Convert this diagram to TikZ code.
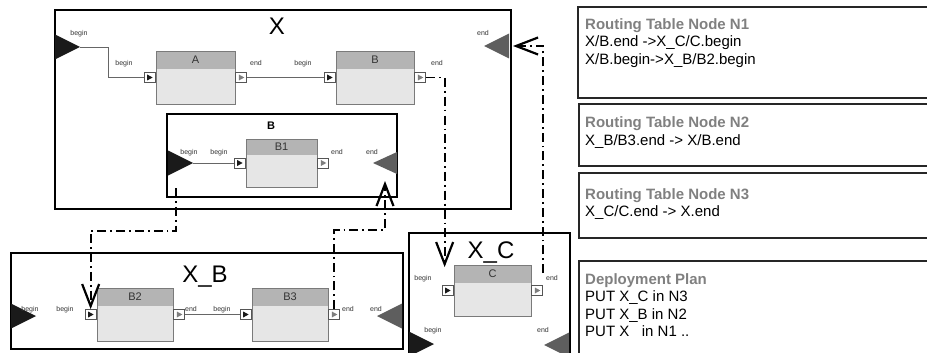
\documentclass[tikz,border=0pt]{standalone}
\usepackage{fontspec}
\setmainfont{Liberation Sans}
\usepackage{tikz}
\usetikzlibrary{arrows.meta, fit, calc}

\definecolor{extblack}{HTML}{1A1A1A}
\definecolor{extgray}{HTML}{5E5E5E}
\definecolor{headgray}{HTML}{B4B4B4}
\definecolor{bodygray}{HTML}{E6E6E6}
\definecolor{linegray}{HTML}{7A7A7A}
\definecolor{wiregray}{HTML}{666666}
\definecolor{titlegray}{HTML}{808080}
\definecolor{labelgray}{HTML}{333333}

\begin{document}
\begin{tikzpicture}[x=1pt, y=-1pt]
    \tikzset{
        portbegin/.pic={
                \fill[extblack] (0pt,12.5pt) -- (25pt,0pt) -- (0pt,-12.5pt) -- cycle;
            },
        portend/.pic={
                \fill[extgray] (0pt,12.5pt) -- (-25pt,0pt) -- (0pt,-12.5pt) -- cycle;
            },
        sysbox/.style={draw=black, line width=1.8pt, inner sep=0pt},
        tablebox/.style={draw=black!85, line width=1.8pt, anchor=north west, minimum width=380pt, inner sep=0pt},
        tabletext/.style={anchor=north west, align=left, inner sep=0pt, font=\fontsize{15}{17.5}\selectfont},
        block/.style={
                draw=linegray, line width=0.9pt, fill=bodygray, inner sep=0pt,
                path picture={\fill[headgray] (path picture bounding box.north west) rectangle ([yshift=-#1]path picture bounding box.north east);}
            },
        block/.default=18pt,
        blocklabel/.style={font=\fontsize{11}{12}\selectfont, text=labelgray, anchor=center, yshift=-9pt, inner sep=0pt},
        portbox/.style={draw=linegray!70!black, fill=white, line width=0.8pt, minimum width=11pt, minimum height=10pt, inner sep=0pt},
        inport/.style={
                portbox, anchor=east,
                path picture={\fill[extblack] ([xshift=-2.5pt,yshift=3pt]path picture bounding box.center) -- ++(5.5pt,-3pt) -- ++(-5.5pt,-3pt) -- cycle;}
            },
        outport/.style={
                portbox, anchor=west,
                path picture={\fill[extgray!80] ([xshift=-2.5pt,yshift=3pt]path picture bounding box.center) -- ++(5.5pt,-3pt) -- ++(-5.5pt,-3pt) -- cycle;}
            },
        portlabel/.style={font=\fontsize{7}{8}\selectfont, text=labelgray, anchor=base, inner sep=0pt},
        biglabel/.style={font=\fontsize{24}{26}\selectfont, anchor=base, inner sep=0pt},
        wire/.style={draw=wiregray, line width=0.9pt},
        route/.style={line width=1.8pt, dash pattern=on 9pt off 4pt on 1.8pt off 4pt,
                -{Straight Barb[length=22pt, width=17pt, line width=2.2pt]}}
    }

    \useasboundingbox (0,0) rectangle (927,353);
    \clip (0,0) rectangle (927,353);

    % --- system X ---
    \node[sysbox, fit={(55,10) (511,209)}] (X) {};
    \node[biglabel] (Xlab) at (277,35) {X};
    \pic at (55,47) {portbegin};
    \pic at (509,46) {portend};
    \coordinate (Xbeg) at (80,47);
    \coordinate (Xendtip) at (513,46);
    \node[portlabel] (XbegL) at (79,35.5) {begin};
    \node[portlabel] (XendL) at (483,35.5) {end};

    \node[block, minimum width=79pt, minimum height=53pt, label={[blocklabel]north:A}] (A) at (195.5,77.5) {};
    \node[inport] (Ain) at (A.west) {};
    \node[outport] (Aout) at (A.east) {};
    \node[portlabel] (AinL) at (124,65.5) {begin};
    \node[portlabel] (AoutL) at (256,65.5) {end};

    \node[block, minimum width=78pt, minimum height=53pt, label={[blocklabel]north:B}] (Bblk) at (375,77.5) {};
    \node[inport] (Bin) at (Bblk.west) {};
    \node[outport] (Bout) at (Bblk.east) {};
    \node[portlabel] (BinL) at (303,65.5) {begin};
    \node[portlabel] (BoutL) at (437,65.5) {end};

    \draw[wire] (Xbeg) -- ++(28,0) |- (Ain.west);
    \draw[wire] (Aout.east) -- (Bin.west);

    % --- composite B inside X ---
    \node[sysbox, fit={(167,114) (397,197)}] (B) {};
    \node[font=\fontsize{11}{12}\selectfont\bfseries, inner sep=0pt] (Blab) at (271,126) {B};
    \pic at (168,163) {portbegin};
    \pic[xscale=0.96, yscale=0.88] at (397,163) {portend};
    \coordinate (Bbeg) at (193,163);
    \coordinate (Bdrop) at (176,188);
    \coordinate (Bup) at (385,181);
    \node[portlabel] (BbegL) at (189,154.5) {begin};
    \node[portlabel] (B1inL) at (219,154.5) {begin};
    \node[portlabel] (B1outL) at (337,154.5) {end};
    \node[portlabel] (BendL) at (372,154.5) {end};

    \node[block=16pt, minimum width=71pt, minimum height=48pt, label={[blocklabel, yshift=1pt]north:B1}] (B1) at (281.5,163) {};
    \node[inport] (B1in) at (B1.west) {};
    \node[outport] (B1out) at (B1.east) {};
    \draw[wire] (Bbeg) -- (B1in.west);

    % --- system X_B ---
    \node[sysbox, fit={(11,253) (403,349)}] (XB) {};
    \node[biglabel] (XBlab) at (205,282) {X\_B};
    \pic at (11,316) {portbegin};
    \pic at (402,316) {portend};
    \node[portlabel] (XBbegL) at (30,311.5) {begin};
    \node[portlabel] (B2inL) at (65,311.5) {begin};
    \node[portlabel] (B2outL) at (191,311.5) {end};
    \node[portlabel] (B3inL) at (222,311.5) {begin};
    \node[portlabel] (B3outL) at (348,311.5) {end};
    \node[portlabel] (XBendL) at (376,311.5) {end};

    \node[block, minimum width=76pt, minimum height=53pt, label={[blocklabel]north:B2}] (B2) at (135,314.5) {};
    \node[inport] (B2in) at (B2.west) {};
    \node[outport] (B2out) at (B2.east) {};
    \node[block, minimum width=76pt, minimum height=53pt, label={[blocklabel]north:B3}] (B3) at (290,314.5) {};
    \node[inport] (B3in) at (B3.west) {};
    \node[outport] (B3out) at (B3.east) {};
    \draw[wire] (B2out.east) -- (B3in.west);

    % --- system X_C ---
    \node[sysbox, fit={(409,233) (570,370)}] (XC) {};
    \node[block, minimum width=77pt, minimum height=51pt, label={[blocklabel]north:C}] (C) at (492.5,290.5) {};
    \node[inport] (Cin) at (C.west) {};
    \node[outport] (Cout) at (C.east) {};
    \node[biglabel] (XClab) at (491,258) {X\_C};
    \pic at (409,344) {portbegin};
    \pic at (569,345) {portend};
    \node[portlabel] (CinL) at (423,280.5) {begin};
    \node[portlabel] (CoutL) at (552,280.5) {end};
    \node[portlabel] (XCbegL) at (433,332.5) {begin};
    \node[portlabel] (XCendL) at (543,332.5) {end};

    % --- routing between nodes ---
    \draw[route] (Bdrop) -- ++(0,43) -| (B2in.north);
    \draw[route] (B3out.north) -- ++(0,-79) -| (Bup);
    \draw[route] (Bout.east) -| ([xshift=-3pt, yshift=18pt]Cin.north);
    \draw[route] ([yshift=12pt]Cout.north east) |- (Xendtip);

    % --- routing tables and plan ---
    \node[tablebox, minimum height=91pt] (N1) at (577,6) {};
    \node[tablebox, minimum height=62pt] (N2) at (578,103) {};
    \node[tablebox, minimum height=65pt] (N3) at (578,172) {};
    \node[tablebox, minimum height=110pt] (DP) at (578,260) {};

    \node[tabletext] (N1txt) at (585,18) {{\bfseries\color{titlegray}Routing Table Node N1}\\X/B.end ->X\_C/C.begin\\X/B.begin->X\_B/B2.begin};
    \node[tabletext] (N2txt) at (585,116.5) {{\bfseries\color{titlegray}Routing Table Node N2}\\X\_B/B3.end -> X/B.end};
    \node[tabletext] (N3txt) at (585,188) {{\bfseries\color{titlegray}Routing Table Node N3}\\X\_C/C.end -> X.end};
    \node[tabletext] (DPtxt) at (585,273) {{\bfseries\color{titlegray}Deployment Plan}\\PUT X\_C in N3\\PUT X\_B in N2\\PUT X\ \ \ in N1 ..};
\end{tikzpicture}
\end{document}
